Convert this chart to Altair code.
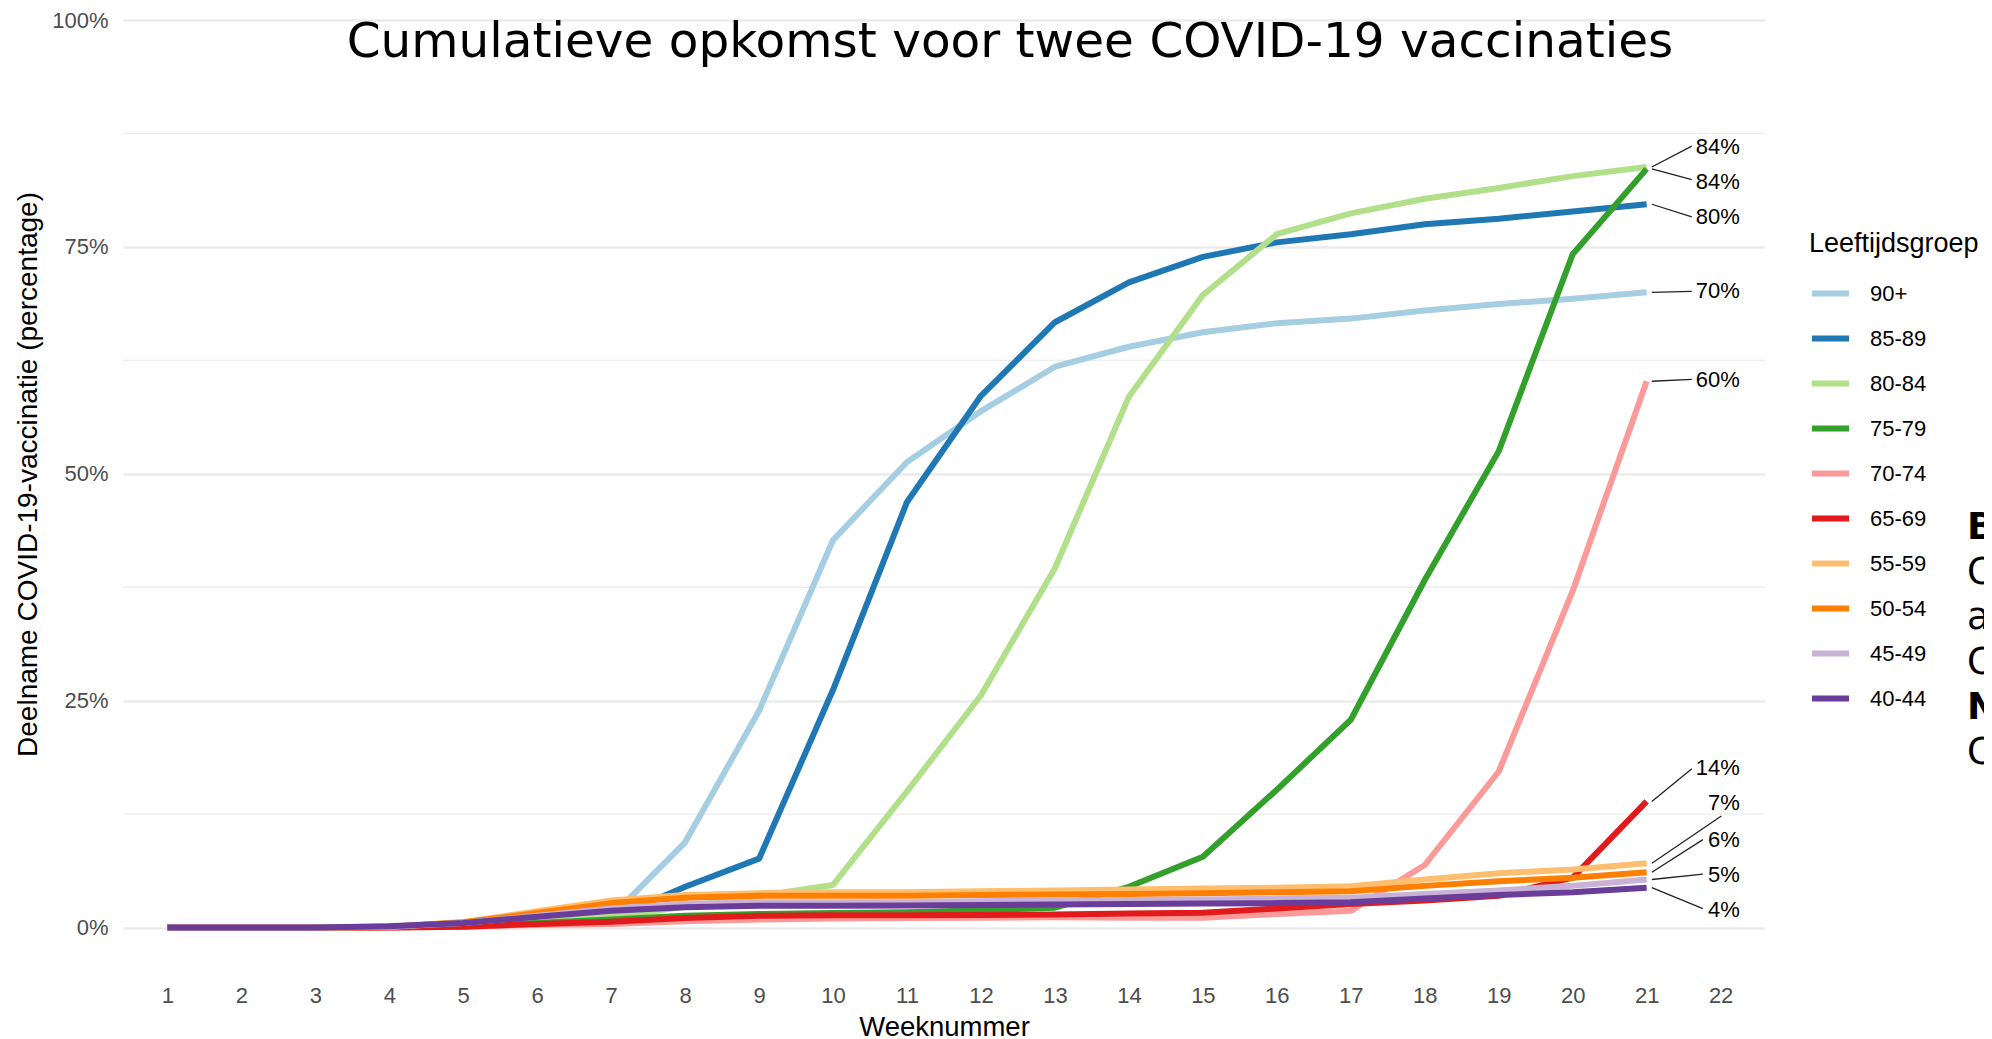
import altair as alt
import pandas as pd

# ---------------- data ----------------
weeks = list(range(1, 22))
groups = ["90+", "85-89", "80-84", "75-79", "70-74", "65-69", "55-59", "50-54", "45-49", "40-44"]
colors = ["#a6cee3", "#1f78b4", "#b2df8a", "#33a02c", "#fb9a99", "#e31a1c", "#fdbf6f", "#ff7f00", "#cab2d6", "#6a3d9a"]

v_90 = [0, 0, 0, 0.1, 0.3, 0.6, 1.2, 9.4, 23.9, 42.7, 51.3, 56.9, 61.8, 64.0, 65.6, 66.6, 67.1, 68.0, 68.7, 69.3, 70.0]
v_85 = [0, 0, 0, 0.1, 0.3, 0.6, 1.0, 4.5, 7.6, 26.2, 46.9, 58.6, 66.7, 71.1, 73.9, 75.5, 76.4, 77.5, 78.1, 78.9, 79.7]
v_80 = [0, 0, 0, 0.1, 0.3, 0.6, 1.2, 2.3, 3.5, 4.7, 15.0, 25.6, 39.6, 58.5, 69.7, 76.4, 78.7, 80.3, 81.5, 82.8, 83.8]
v_75 = [0, 0, 0, 0.05, 0.2, 0.5, 0.9, 1.3, 1.5, 1.6, 1.7, 1.9, 2.2, 4.5, 7.8, 15.2, 22.9, 38.3, 52.5, 74.2, 83.6]
v_70 = [0, 0, 0, 0, 0.1, 0.3, 0.4, 0.7, 0.9, 1.0, 1.05, 1.1, 1.15, 1.1, 1.1, 1.5, 1.85, 6.9, 17.2, 37.1, 60.2]
v_65 = [0, 0, 0, 0, 0.1, 0.4, 0.65, 1.05, 1.3, 1.35, 1.35, 1.4, 1.45, 1.55, 1.65, 2.1, 2.6, 3.0, 3.5, 5.5, 13.9]
v_55 = [0, 0, 0, 0.1, 0.6, 1.8, 3.0, 3.6, 3.8, 3.9, 3.9, 4.0, 4.1, 4.2, 4.3, 4.4, 4.55, 5.3, 6.0, 6.4, 7.1]
v_50 = [0, 0, 0, 0.1, 0.6, 1.6, 2.7, 3.3, 3.5, 3.5, 3.5, 3.6, 3.65, 3.7, 3.8, 3.9, 4.0, 4.6, 5.1, 5.5, 6.1]
v_45 = [0, 0, 0, 0.1, 0.5, 1.3, 2.1, 2.6, 2.8, 2.8, 2.8, 2.9, 3.0, 3.05, 3.1, 3.2, 3.3, 3.7, 4.1, 4.6, 5.3]
v_40 = [0, 0, 0, 0.15, 0.5, 1.2, 1.85, 2.25, 2.4, 2.4, 2.45, 2.5, 2.55, 2.6, 2.65, 2.7, 2.8, 3.2, 3.6, 3.9, 4.4]
series = [v_90, v_85, v_80, v_75, v_70, v_65, v_55, v_50, v_45, v_40]

# repelled end labels (text centre, in percent) and where each leader line meets its label
label_y = [70.1, 78.3, 86.0, 82.2, 60.3, 17.6, 13.7, 9.7, 5.8, 1.9]
leader_end_x = [21.61, 21.61, 21.61, 21.61, 21.61, 21.61, 22.01, 21.76, 21.76, 21.76]
leader_end_y = [70.1, 78.3, 86.1, 82.4, 60.4, 17.5, 12.3, 9.7, 5.9, 2.1]
label_right_x = 22.26

x_ticks = list(range(1, 23))
y_major = [0, 25, 50, 75, 100]
y_minor = [12.5, 37.5, 62.5, 87.5]

title_text = "Cumulatieve opkomst voor twee COVID-19 vaccinaties"
# first letters of the side note, visible at the right edge (rest is cut off)
side_lines = ["B", "C", "a", "C", "N", "C"]
side_bold = [True, False, False, False, True, False]

# ---------------- tables ----------------
rows = []
for g, vals in zip(groups, series):
    for w, v in zip(weeks, vals):
        rows.append({"week": w, "pct": v, "groep": g})
df = pd.DataFrame(rows)

ann = pd.DataFrame({
    "groep": groups,
    "x0": [weeks[-1] + 0.07] * len(groups),
    "y0": [s[-1] for s in series],
    "x1": leader_end_x,
    "y1": leader_end_y,
    "ly": label_y,
    "lx": [label_right_x] * len(groups),
    "txt": [f"{round(s[-1])}%" for s in series],
})

FONT = "Liberation Sans"
W, H = 1642, 953
ydom = [-5, 100]
xdom = [0.4, 22.6]

xs = alt.Scale(domain=xdom, nice=False, zero=False)
ys = alt.Scale(domain=ydom, nice=False, zero=False)

xaxis = alt.Axis(
    values=x_ticks, format="d", title="Weeknummer", grid=False, domain=False, ticks=False, tickSize=0,
    labelFontSize=22, labelFont=FONT, labelColor="#4d4d4d", labelPadding=22,
    labelBaseline="middle", labelFlush=False,
    titleFontSize=27.5, titleFont=FONT, titleFontWeight="normal", titleColor="black",
    titleBaseline="alphabetic", titleY=62, titleX=W / 2,
)
yaxis = alt.Axis(
    values=y_major, labelExpr="datum.value + '%'",
    title="Deelname COVID-19-vaccinatie (percentage)",
    grid=True, gridColor="#ebebeb", gridWidth=2.6,
    domain=False, ticks=False, tickSize=0,
    labelFontSize=22, labelFont=FONT, labelColor="#4d4d4d", labelPadding=15,
    titleFontSize=28, titleFont=FONT, titleFontWeight="normal", titleColor="black",
    titleAngle=-90, titleAlign="center", titleBaseline="middle", titleX=-95, titleY=454,
)

minor = alt.Chart(pd.DataFrame({"v": y_minor})).mark_rule(
    color="#ececec", strokeWidth=1.3
).encode(y=alt.Y("v:Q", scale=ys, axis=yaxis))

lines = alt.Chart(df).mark_line(strokeWidth=6, strokeJoin="round").encode(
    x=alt.X("week:Q", scale=xs, axis=xaxis),
    y=alt.Y("pct:Q", scale=ys, axis=yaxis),
    color=alt.Color("groep:N", scale=alt.Scale(domain=groups, range=colors), legend=alt.Legend(
        title="Leeftijdsgroep", orient="none", legendX=1686, legendY=211,
        symbolType="stroke", symbolStrokeWidth=6, symbolSize=1369,
        labelFontSize=22, labelFont=FONT, labelColor="black", labelOffset=18,
        titleFontSize=27, titleFont=FONT, titleFontWeight="normal", titleColor="black",
        titlePadding=14, rowPadding=11,
    )),
    order=alt.Order("week:Q"),
)

leaders = alt.Chart(ann).mark_rule(color="#222222", strokeWidth=1.3).encode(
    x=alt.X("x0:Q", scale=xs, axis=xaxis), y=alt.Y("y0:Q", scale=ys, axis=yaxis),
    x2="x1:Q", y2="y1:Q",
)

labels = alt.Chart(ann).mark_text(
    align="right", baseline="middle", fontSize=22, font=FONT, color="black"
).encode(x=alt.X("lx:Q", scale=xs, axis=xaxis), y=alt.Y("ly:Q", scale=ys, axis=yaxis), text="txt:N")

title = alt.Chart(pd.DataFrame({"t": [title_text]})).mark_text(
    align="center", baseline="alphabetic", fontSize=48.5, font="DejaVu Sans", color="black"
).encode(text="t:N", x=alt.value(887), y=alt.value(37))

side_layers = []
for i, (s, b) in enumerate(zip(side_lines, side_bold)):
    side_layers.append(
        alt.Chart(pd.DataFrame({"t": [s]})).mark_text(
            align="left", baseline="alphabetic", fontSize=37, font="DejaVu Sans",
            fontWeight="bold" if b else "normal", color="black",
        ).encode(text="t:N", x=alt.value(1844), y=alt.value(518.7 + 45 * i))
    )

chart = alt.layer(minor, lines, leaders, labels, title, *side_layers).properties(
    width=W, height=H,
    autosize=alt.AutoSizeParams(type="none"),
    padding={"left": 115, "top": 12, "right": 219, "bottom": 66},
    background="white",
).configure_view(stroke=None)

chart.save("out.html", embed_options={"renderer": "svg", "actions": False})
